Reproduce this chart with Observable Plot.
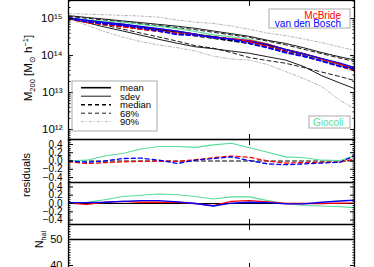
<!DOCTYPE html>
<html><head><meta charset="utf-8">
<script src="https://cdn.jsdelivr.net/npm/d3@7"></script>
<script src="https://cdn.jsdelivr.net/npm/@observablehq/plot@0.6"></script>
<style>
html,body{margin:0;padding:0;background:#fff;overflow:hidden;width:374px;height:267px;font-family:"Liberation Sans",Arial,sans-serif}
#wrap{position:relative;width:374px;height:267px;overflow:hidden}
</style></head><body><div id="wrap"></div>
<script>
// ---------- data ----------
const xs = [0,0.1,0.2,0.3,0.4,0.5,0.6,0.7,0.8,0.9,1.0,1.1,1.2,1.3,1.4,1.5,1.58];
// top panel: log10 M200
const p90Hi  = [15.135,15.119,15.105,15.086,15.070,15.038,14.962,14.905,14.870,14.797,14.711,14.608,14.541,14.446,14.351,14.232,14.135];
const sdevHi = [15.081,15.032,14.986,14.938,14.892,14.843,14.795,14.738,14.665,14.592,14.519,14.414,14.327,14.211,14.081,13.965,13.884];
const p68Hi  = [15.06,15.01,14.96,14.91,14.86,14.81,14.76,14.70,14.63,14.56,14.49,14.39,14.29,14.17,14.05,13.93,13.84];
const meanM  = [15.014,14.951,14.889,14.827,14.765,14.703,14.643,14.578,14.511,14.443,14.376,14.289,14.162,14.049,13.908,13.770,13.649];
const medianM= [15.01,14.93,14.86,14.79,14.72,14.66,14.60,14.54,14.47,14.40,14.33,14.24,14.12,14.01,13.87,13.72,13.59];
const p68Lo  = [15.0,14.919,14.824,14.716,14.608,14.5,14.392,14.270,14.2,14.081,13.946,13.865,13.792,13.676,13.554,13.432,13.324];
const sdevLo = [15.0,14.892,14.773,14.665,14.551,14.438,14.335,14.238,14.186,14.122,14.062,13.968,13.878,13.703,13.454,13.257,13.108];
const p90Lo  = [15.0,14.824,14.649,14.5,14.378,14.284,14.216,14.122,13.986,13.905,13.878,13.757,13.568,13.378,13.162,12.784,12.568];
const giocoliM = [15.01,14.96,14.93,14.90,14.84,14.79,14.73,14.65,14.56,14.51,14.44,14.32,14.16,14.03,13.88,13.73,13.60];
const mcbrideM = [15.01,14.94,14.89,14.85,14.78,14.72,14.66,14.58,14.49,14.46,14.41,14.31,14.16,14.05,13.91,13.77,13.65];
const vdboschM = [15.02,14.96,14.90,14.85,14.79,14.73,14.66,14.58,14.48,14.45,14.39,14.30,14.16,14.04,13.92,13.80,13.68];
const mcbrideMed = [15.0,14.90,14.84,14.78,14.72,14.66,14.60,14.55,14.50,14.45,14.37,14.24,14.10,13.99,13.86,13.71,13.61];
const vdboschMed = [15.01,14.92,14.86,14.82,14.75,14.67,14.57,14.55,14.50,14.44,14.33,14.21,14.08,13.98,13.85,13.71,13.64];
// residuals w.r.t. median
const resMedZero    = [0,0,0,0,0,0,0,0,0,0,0,0,0,0,0,0,0];
const resMedGiocoli = [0.0,0.02,0.12,0.18,0.29,0.35,0.35,0.33,0.39,0.43,0.32,0.21,0.10,0.08,0.02,0.01,0.12];
const resMedMcBride = [-0.02,-0.06,-0.04,-0.02,-0.01,0.0,-0.01,0.03,0.08,0.12,0.09,0.0,-0.05,-0.04,-0.03,-0.03,0.05];
const resMedBosch   = [0.0,-0.03,0.0,0.06,0.07,0.02,-0.06,0.02,0.06,0.10,0.01,-0.07,-0.09,-0.07,-0.05,-0.03,0.13];
// residuals w.r.t. mean
const resMeanZero    = [0,0,0,0,0,0,0,0,0,0,0,0,0,0,0,0,0];
const resMeanGiocoli = [0.0,0.03,0.09,0.17,0.20,0.23,0.21,0.17,0.11,0.16,0.16,0.07,0.0,-0.05,-0.06,-0.08,-0.10];
const resMeanMcBride = [0.01,-0.02,0.03,0.05,0.03,0.03,0.03,0.0,-0.05,0.05,0.07,0.04,0.0,0.0,0.0,0.01,0.01];
const resMeanBosch   = [0.02,0.02,0.03,0.05,0.07,0.07,0.04,0.0,-0.06,0.01,0.03,0.02,-0.01,-0.01,0.03,0.06,0.08];
// number of haloes
const nHal = [50,50,50,50,50,50,50,50,50,50,50,50,50,50,50,50,50];
// tick labels
const massTicks = [1e12,1e13,1e14,1e15];
const resTicks = [-0.4,-0.2,0,0.2,0.4];
const nTicks = [40,50];
const xTicks = [1];

// ---------- helpers ----------
const GREEN = "#55dd99", GRAY = "#999";
const rows = arr => xs.map((x,i)=>({x, v: arr[i]}));
const wrap = document.getElementById("wrap");
const W = 374, ML = 68, MR = 20;
const FONT = "Liberation Sans, Arial, sans-serif";

function frameAxes(majors, minors, fmt, fontSize) {
  return [
    Plot.frame({stroke:"#000", strokeWidth:1.3}),
    Plot.axisY({anchor:"left", ticks: majors, tickSize:-5, tickFormat:()=>"", label:null}),
    Plot.axisY({anchor:"left", ticks: minors, tickSize:-2.5, tickFormat:()=>"", label:null}),
    Plot.axisY({anchor:"right", ticks: majors, tickSize:-5, tickFormat:()=>"", label:null}),
    Plot.axisY({anchor:"right", ticks: minors, tickSize:-2.5, tickFormat:()=>"", label:null}),
    Plot.axisY({anchor:"left", ticks: majors, tickSize:0, tickPadding:6, tickFormat: fmt, fontSize, label:null}),
    Plot.axisX({anchor:"top", ticks: xTicks, tickSize:-5, tickFormat:()=>"", label:null}),
    Plot.axisX({anchor:"bottom", ticks: xTicks, tickSize:-5, tickFormat:()=>"", label:null})
  ];
}

function panel(top, bottom, yopts, marks) {
  const mt = 2, mb = 2;
  const svg = Plot.plot({
    width: W, height: bottom - top + mt + mb,
    marginLeft: ML, marginRight: MR, marginTop: mt, marginBottom: mb,
    x: {domain: [0, 1.58], axis: null},
    y: {...yopts, axis: null},
    style: {fontFamily: FONT, background: "transparent", overflow: "visible", color: "#000"},
    marks
  });
  svg.style.position = "absolute";
  svg.style.left = "0px";
  svg.style.top = (top - mt) + "px";
  wrap.append(svg);
}

const ln = (arr, o, log) => Plot.line(rows(arr), {x:"x", y: log ? (d => 10 ** d.v) : "v", clip:true, strokeLinejoin:"round", ...o});

// ---------- top panel ----------
const sup = {"0":"⁰","1":"¹","2":"²","3":"³","4":"⁴","5":"⁵","6":"⁶","7":"⁷","8":"⁸","9":"⁹"};
const massMinor = [];
for (let e = 11; e <= 15; e++) for (let m = 2; m <= 9; m++) massMinor.push(m * 10 ** e);
panel(0, 139, {type:"log", domain:[10**11.73, 10**15.49]}, [
  ln(p90Hi, {stroke:GRAY, strokeWidth:0.7, strokeDasharray:"3,2,1,2"}, true),
  ln(p90Lo, {stroke:GRAY, strokeWidth:0.7, strokeDasharray:"3,2,1,2"}, true),
  ln(sdevHi, {stroke:"#000", strokeWidth:0.9}, true),
  ln(sdevLo, {stroke:"#000", strokeWidth:0.9}, true),
  ln(p68Hi, {stroke:"#000", strokeWidth:0.9, strokeDasharray:"4,3"}, true),
  ln(p68Lo, {stroke:"#000", strokeWidth:0.9, strokeDasharray:"4,3"}, true),
  ln(meanM, {stroke:"#000", strokeWidth:1.6}, true),
  ln(medianM, {stroke:"#000", strokeWidth:1.6, strokeDasharray:"4,3"}, true),
  ln(giocoliM, {stroke:GREEN, strokeWidth:1.1}, true),
  ln(mcbrideM, {stroke:"red", strokeWidth:1.2}, true),
  ln(vdboschM, {stroke:"blue", strokeWidth:1.2}, true),
  ln(mcbrideMed, {stroke:"red", strokeWidth:1.8, strokeDasharray:"4,3"}, true),
  ln(vdboschMed, {stroke:"blue", strokeWidth:1.8, strokeDasharray:"4,3"}, true),
  ...frameAxes(massTicks, massMinor, d => "10" + String(Math.round(Math.log10(d))).split("").map(c=>sup[c]).join(""), 11.5)
]);

// ---------- residual panels ----------
const resMinor = d3.range(-0.5, 0.5001, 0.05).map(v => +v.toFixed(2));
const resFmt = d => d === 0 ? "0.0" : d3.format(".1f")(d);
panel(139, 182, {domain:[-0.52, 0.52]}, [
  ln(resMedZero, {stroke:"#000", strokeWidth:1.1, strokeDasharray:"4,3"}),
  ln(resMedGiocoli, {stroke:GREEN, strokeWidth:1.1}),
  ln(resMedMcBride, {stroke:"red", strokeWidth:1.3, strokeDasharray:"4,3"}),
  ln(resMedBosch, {stroke:"blue", strokeWidth:1.3, strokeDasharray:"4,3"}),
  ...frameAxes(resTicks, resMinor, resFmt, 10)
]);
panel(182, 224, {domain:[-0.506, 0.506]}, [
  ln(resMeanZero, {stroke:"#000", strokeWidth:1.1}),
  ln(resMeanGiocoli, {stroke:GREEN, strokeWidth:1.1}),
  ln(resMeanMcBride, {stroke:"red", strokeWidth:1.4}),
  ln(resMeanBosch, {stroke:"blue", strokeWidth:1.4}),
  ...frameAxes(resTicks, resMinor, resFmt, 10)
]);

// ---------- N_hal panel ----------
panel(224, 268, {domain:[38.85, 55.77]}, [
  ln(nHal, {stroke:"#000", strokeWidth:1.3}),
  ...frameAxes(nTicks, d3.range(39, 56), d => String(d), 11)
]);

// ---------- legends and titles (overlay) ----------
const ov = d3.select(wrap).append("svg")
  .attr("width", W).attr("height", 267)
  .style("position","absolute").style("left","0px").style("top","0px")
  .style("font-family", FONT);

ov.append("rect").attr("x",72).attr("y",81).attr("width",85).attr("height",50)
  .attr("fill","none").attr("stroke","#aaa").attr("stroke-width",1);
const legendItems = [
  {t:"mean",   sw:1.6, da:null,     c:"#000"},
  {t:"sdev",   sw:0.9, da:null,     c:"#000"},
  {t:"median", sw:1.6, da:"4,3",    c:"#000"},
  {t:"68%",    sw:0.9, da:"4,3",    c:"#000"},
  {t:"90%",    sw:0.7, da:"3,2,1,2",c:GRAY}
];
const ly = [87.7, 96.2, 104.7, 113.2, 121.7];
legendItems.forEach((d,i) => {
  ov.append("line").attr("x1",81).attr("x2",111).attr("y1",ly[i]).attr("y2",ly[i])
    .attr("stroke",d.c).attr("stroke-width",d.sw).attr("stroke-dasharray",d.da);
  ov.append("text").attr("x",120).attr("y",ly[i]+3.5).attr("font-size",9.5).text(d.t);
});

ov.append("rect").attr("x",269).attr("y",9).attr("width",81).attr("height",19)
  .attr("fill","none").attr("stroke","#aaa").attr("stroke-width",1);
ov.append("text").attr("x",341).attr("y",18.5).attr("text-anchor","end").attr("font-size",10).attr("fill","red").text("McBride");
ov.append("text").attr("x",341).attr("y",27).attr("text-anchor","end").attr("font-size",10).attr("fill","blue").text("van den Bosch");

ov.append("rect").attr("x",309).attr("y",116).attr("width",41).attr("height",12)
  .attr("fill","none").attr("stroke","#aaa").attr("stroke-width",1);
ov.append("text").attr("x",313).attr("y",126).attr("font-size",10).attr("fill",GREEN).text("Giocoli");

const t1 = ov.append("text").attr("transform","translate(32,68) rotate(-90)")
  .attr("text-anchor","middle").attr("font-size",11.5);
t1.append("tspan").text("M");
t1.append("tspan").attr("font-size",7.5).attr("dy",2.5).text("200");
t1.append("tspan").attr("dy",-2.5).text(" [M");
t1.append("tspan").attr("font-size",7.5).attr("dy",2.5).text("⊙");
t1.append("tspan").attr("dy",-2.5).text(" h");
t1.append("tspan").attr("font-size",7.5).attr("dy",-4).text("−1");
t1.append("tspan").attr("dy",4).text("]");

ov.append("text").attr("transform","translate(30,175) rotate(-90)")
  .attr("text-anchor","middle").attr("font-size",11).text("residuals");

const t3 = ov.append("text").attr("transform","translate(43,248) rotate(-90)").attr("font-size",10.5);
t3.append("tspan").text("N");
t3.append("tspan").attr("font-size",7).attr("dy",2.5).text("hal");
</script></body></html>
